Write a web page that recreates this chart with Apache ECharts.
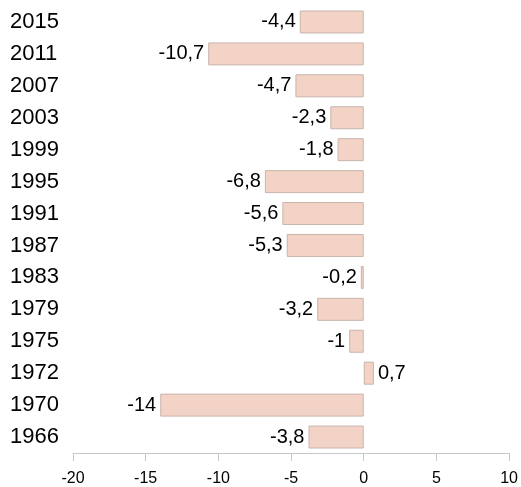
<!DOCTYPE html>
<html>
<head>
<meta charset="utf-8">
<script src="https://cdn.jsdelivr.net/npm/echarts@6/dist/echarts.min.js"></script>
<style>
  html, body { margin: 0; padding: 0; background: #fff; }
  #chart { width: 521px; height: 487px; }
</style>
</head>
<body>
<div id="chart"></div>
<script>
// years, bottom to top
var years = ['1966', '1970', '1972', '1975', '1979', '1983', '1987', '1991', '1995', '1999', '2003', '2007', '2011', '2015'];
var values = [-3.8, -14, 0.7, -1, -3.2, -0.2, -5.3, -5.6, -6.8, -1.8, -2.3, -4.7, -10.7, -4.4];
var xTicks = [-20, -15, -10, -5, 0, 5, 10];

var chart = echarts.init(document.getElementById('chart'));

var barData = values.map(function (v) {
  return {
    value: v,
    label: { position: v < 0 ? 'left' : 'right' }
  };
});

chart.setOption({
  animation: false,
  grid: { left: 73, right: 11, top: 6, bottom: 33, containLabel: false },
  xAxis: {
    type: 'value',
    min: xTicks[0],
    max: xTicks[xTicks.length - 1],
    interval: 5,
    splitLine: { show: false },
    axisLine: { show: true, lineStyle: { color: '#c8c8c8' } },
    axisTick: { show: true, length: 8, lineStyle: { color: '#c8c8c8' } },
    axisLabel: {
      color: '#000',
      fontFamily: 'Liberation Sans, Arial, sans-serif',
      fontSize: 16,
      margin: 18
    }
  },
  yAxis: {
    type: 'category',
    data: years,
    axisLine: { show: false },
    axisTick: { show: false },
    axisLabel: {
      align: 'left',
      margin: 63,
      color: '#000',
      fontFamily: 'Liberation Sans, Arial, sans-serif',
      fontSize: 22
    }
  },
  series: [{
    type: 'bar',
    data: barData,
    barWidth: '72%',
    itemStyle: {
      color: '#f2d3c5',
      borderColor: '#c9b5ad',
      borderWidth: 1
    },
    label: {
      show: true,
      distance: 4,
      color: '#000',
      fontFamily: 'Liberation Sans, Arial, sans-serif',
      fontSize: 20,
      formatter: function (p) {
        return String(p.value).replace('.', ',');
      }
    }
  }]
});
</script>
</body>
</html>
